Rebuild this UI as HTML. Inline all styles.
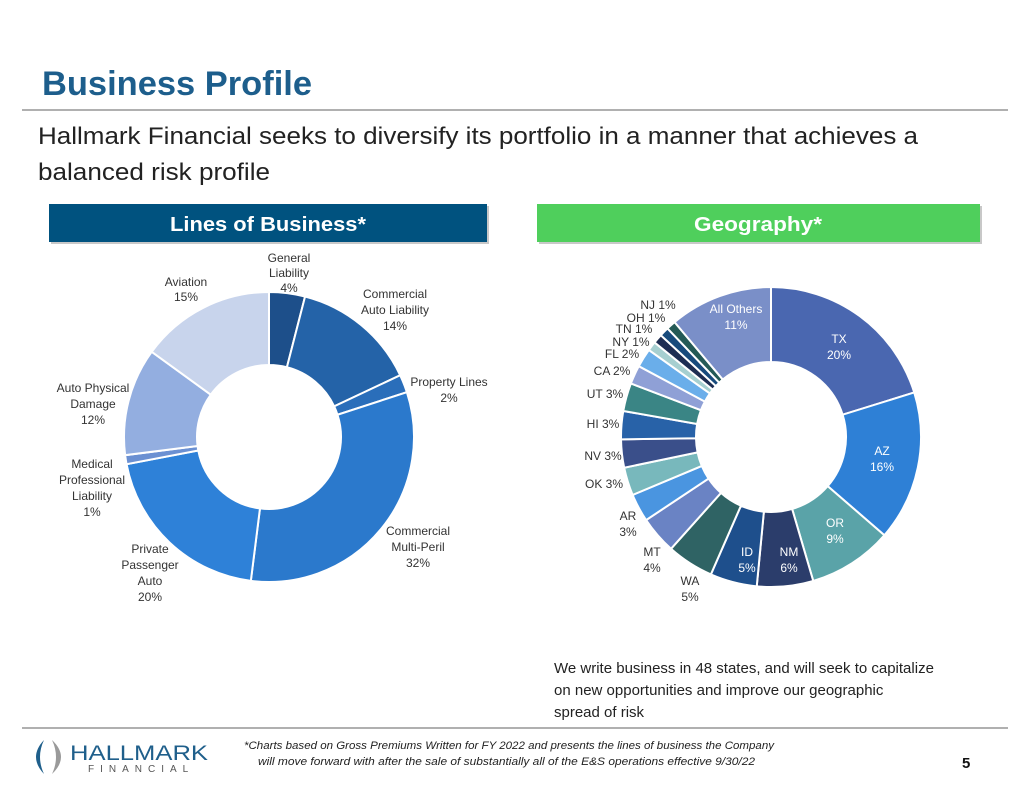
<!DOCTYPE html>
<html><head><meta charset="utf-8"><style>
body{margin:0;background:#fff;width:1024px;height:791px;overflow:hidden;font-family:"Liberation Sans",sans-serif}
svg text{font-family:"Liberation Sans",sans-serif}
</style></head><body>
<svg id="s" width="1024" height="791" viewBox="0 0 1024 791">
<text x="42" y="95" font-size="34" font-weight="bold" fill="#1d5e8c" textLength="270" lengthAdjust="spacingAndGlyphs">Business Profile</text>
<line x1="22" y1="110" x2="1008" y2="110" stroke="#b0b0b0" stroke-width="2"/>
<text x="38" y="144" font-size="24" fill="#222" textLength="880" lengthAdjust="spacingAndGlyphs">Hallmark Financial seeks to diversify its portfolio in a manner that achieves a</text>
<text x="38" y="180" font-size="24" fill="#222" textLength="232" lengthAdjust="spacingAndGlyphs">balanced risk profile</text>
<rect x="51" y="206" width="438" height="38" fill="#c8c8c8"/>
<rect x="49" y="204" width="438" height="38" fill="#00527f"/>
<text x="268" y="231" font-size="20" font-weight="bold" fill="#fff" text-anchor="middle" textLength="196" lengthAdjust="spacingAndGlyphs">Lines of Business*</text>
<rect x="539" y="206" width="443" height="38" fill="#c8c8c8"/>
<rect x="537" y="204" width="443" height="38" fill="#4fcf5c"/>
<text x="758" y="231" font-size="20" font-weight="bold" fill="#fff" text-anchor="middle" textLength="128" lengthAdjust="spacingAndGlyphs">Geography*</text>
<g id="lob"></g>
<g id="geo"></g>
<g id="labels" font-size="12" fill="#333"></g>
<text x="554" y="673" font-size="15" fill="#222">We write business in 48 states, and will seek to capitalize</text>
<text x="554" y="695" font-size="15" fill="#222">on new opportunities and improve our geographic</text>
<text x="554" y="717" font-size="15" fill="#222">spread of risk</text>
<line x1="22" y1="728" x2="1008" y2="728" stroke="#b0b0b0" stroke-width="2"/>
<g>
<path d="M44 740 Q28 757 44 774 Q36 757 44 740Z" fill="#1f5f8b"/>
<path d="M52 740 Q70 757 52 774 Q60 757 52 740Z" fill="#9a9a9a"/>
<text x="70" y="760" font-size="21" fill="#1f5f8b" textLength="138" lengthAdjust="spacingAndGlyphs">HALLMARK</text>
<text x="88" y="772" font-size="10" fill="#555" letter-spacing="6">FINANCIAL</text>
</g>
<text x="244" y="749" font-size="11" font-style="italic" fill="#222" textLength="530" lengthAdjust="spacingAndGlyphs">*Charts based on Gross Premiums Written for FY 2022 and presents the lines of business the Company</text>
<text x="258" y="765" font-size="11" font-style="italic" fill="#222" textLength="497" lengthAdjust="spacingAndGlyphs">will move forward with after the sale of substantially all of the E&amp;S operations effective 9/30/22</text>
<text x="962" y="768" font-size="15" font-weight="bold" fill="#111">5</text>
</svg>
<script>
const lobCategories=["General Liability","Commercial Auto Liability","Property Lines","Commercial Multi-Peril","Private Passenger Auto","Medical Professional Liability","Auto Physical Damage","Aviation"];
const lobValues=[4,14,2,32,20,1,12,15];
const lobColors=["#1d4f8a","#2463a8","#2a6eba","#2b79cc","#2e81d8","#6b90d2","#93aee0","#c8d4ec"];
const geoCategories=["TX","AZ","OR","NM","ID","WA","MT","AR","OK","NV","HI","UT","CA","FL","NY","TN","OH","NJ","All Others"];
const geoValues=[20,16,9,6,5,5,4,3,3,3,3,3,2,2,1,1,1,1,11];
const geoColors=["#4a67b0","#2e80d6","#5aa3a8","#2b3d6b","#1e4f8c","#2f6364","#6a83c4","#4a95e0","#78b8bc","#3a4f8a","#2862a8","#3a8585","#8fa0d6","#6aaeea","#a6cfd0","#1d2d52","#174a7c","#245a56","#7a8fc8"];
const NS="http://www.w3.org/2000/svg";
function donut(g,vals,cols,names,cx,cy,ro,ri,prefix){
  const tot=vals.reduce((a,b)=>a+b,0);let a0=0;
  vals.forEach((v,i)=>{
    const a1=a0+v/tot*2*Math.PI;
    const p=(r,a)=>[cx+r*Math.sin(a),cy-r*Math.cos(a)];
    const [x1,y1]=p(ro,a0),[x2,y2]=p(ro,a1),[x3,y3]=p(ri,a1),[x4,y4]=p(ri,a0);
    const lg=(a1-a0)>Math.PI?1:0;
    const el=document.createElementNS(NS,"path");
    el.setAttribute("d",`M${x1} ${y1}A${ro} ${ro} 0 ${lg} 1 ${x2} ${y2}L${x3} ${y3}A${ri} ${ri} 0 ${lg} 0 ${x4} ${y4}Z`);
    el.setAttribute("fill",cols[i]);el.setAttribute("stroke","#fff");el.setAttribute("stroke-width","2");
    
    
    g.appendChild(el);a0=a1;
  });
}
donut(document.getElementById("lob"),lobValues,lobColors,lobCategories,269,437,145,72,"lob");
donut(document.getElementById("geo"),geoValues,geoColors,geoCategories,771,437,150,75,"geo");
const labels=[
 [289,262,"General",0],[289,277,"Liability",0],[289,292,lobValues[0]+"%",0],
 [186,286,"Aviation",0],[186,301,lobValues[7]+"%",0],
 [395,298,"Commercial",0],[395,314,"Auto Liability",0],[395,330,lobValues[1]+"%",0],
 [449,386,"Property Lines",0],[449,402,lobValues[2]+"%",0],
 [93,392,"Auto Physical",0],[93,408,"Damage",0],[93,424,lobValues[6]+"%",0],
 [92,468,"Medical",0],[92,484,"Professional",0],[92,500,"Liability",0],[92,516,lobValues[5]+"%",0],
 [418,535,"Commercial",0],[418,551,"Multi-Peril",0],[418,567,lobValues[3]+"%",0],
 [150,553,"Private",0],[150,569,"Passenger",0],[150,585,"Auto",0],[150,601,lobValues[4]+"%",0],
 [839,343,"TX",1],[839,359,geoValues[0]+"%",1],[882,455,"AZ",1],[882,471,geoValues[1]+"%",1],
 [835,527,"OR",1],[835,543,geoValues[2]+"%",1],[789,556,"NM",1],[789,572,geoValues[3]+"%",1],
 [747,556,"ID",1],[747,572,geoValues[4]+"%",1],[690,585,"WA",0],[690,601,geoValues[5]+"%",0],
 [652,556,"MT",0],[652,572,geoValues[6]+"%",0],[628,520,"AR",0],[628,536,geoValues[7]+"%",0],
 [604,488,"OK "+geoValues[8]+"%",0],[603,460,"NV "+geoValues[9]+"%",0],[603,428,"HI "+geoValues[10]+"%",0],
 [605,398,"UT "+geoValues[11]+"%",0],[612,375,"CA "+geoValues[12]+"%",0],[622,358,"FL "+geoValues[13]+"%",0],
 [631,346,"NY "+geoValues[14]+"%",0],[634,333,"TN "+geoValues[15]+"%",0],[646,322,"OH "+geoValues[16]+"%",0],
 [658,309,"NJ "+geoValues[17]+"%",0],[736,313,"All Others",1],[736,329,geoValues[18]+"%",1]
];
const lg=document.getElementById("labels");
labels.forEach(l=>{
  const t=document.createElementNS(NS,"text");
  t.setAttribute("x",l[0]);t.setAttribute("y",l[1]);t.setAttribute("text-anchor","middle");
  if(l[3])t.setAttribute("fill","#fff");
  t.textContent=l[2];
  
  
  lg.appendChild(t);
});
</script>
</body></html>
